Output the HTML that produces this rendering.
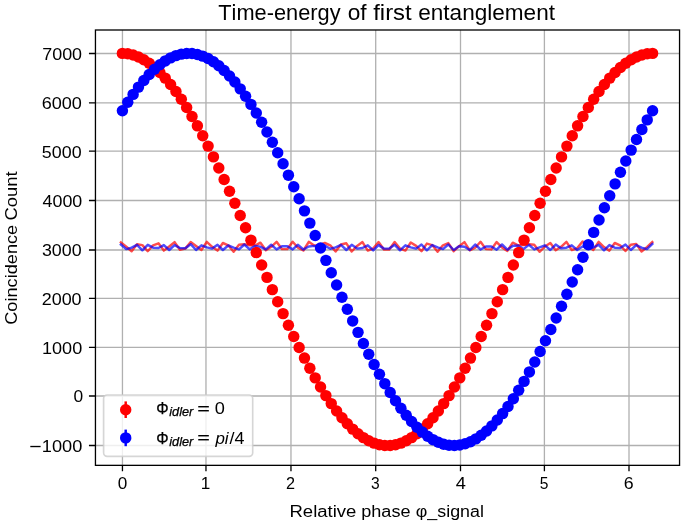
<!DOCTYPE html>
<html><head><meta charset="utf-8"><title>Time-energy of first entanglement</title>
<style>html,body{margin:0;padding:0;background:#fff;width:685px;height:526px;overflow:hidden}
text{font-family:"Liberation Sans", sans-serif;font-kerning:none}</style></head>
<body><svg width="685" height="526" viewBox="0 0 685 526" style="display:block;will-change:transform;font-family:'Liberation Sans', sans-serif;font-kerning:none"><rect x="0" y="0" width="685" height="526" fill="#fff"/><path d="M122.45 30.00V465.35M205.97 30.00V465.35M290.97 30.00V465.35M375.70 30.00V465.35M460.50 30.00V465.35M544.40 30.00V465.35M629.00 30.00V465.35M95.45 445.50H679.55M95.45 396.00H679.55M95.45 347.44H679.55M95.45 298.33H679.55M95.45 250.00H679.55M95.45 200.47H679.55M95.45 151.18H679.55M95.45 102.79H679.55M95.45 53.47H679.55" stroke="#b0b0b0" stroke-width="1.31" fill="none"/><polyline points="120.90,242.40 126.27,246.80 131.64,251.20 137.00,244.20 142.37,245.10 147.74,251.20 153.11,245.30 158.47,243.30 163.84,250.60 169.21,246.50 174.58,242.10 179.94,249.70 185.31,248.60 190.68,242.10 196.05,246.00 201.42,250.00 206.78,241.80 212.15,246.80 217.52,250.60 222.89,243.00 228.25,245.30 233.62,251.80 238.99,244.80 244.36,244.20 249.72,245.30 255.09,245.60 260.46,242.70 265.83,250.30 271.20,246.80 276.56,241.80 281.93,249.10 287.30,249.10 292.67,241.80 298.03,247.70 303.40,250.50 308.77,241.80 314.14,245.60 319.50,244.80 324.87,243.00 330.24,245.30 335.61,251.50 340.98,244.50 346.34,243.30 351.71,251.50 357.08,245.90 362.45,242.10 367.81,250.60 373.18,248.50 378.55,242.10 383.92,249.40 389.28,249.40 394.65,242.10 400.02,248.60 405.39,250.60 410.76,242.50 416.12,245.90 421.49,251.20 426.86,243.60 432.23,245.10 437.59,251.80 442.96,245.30 448.33,243.10 453.70,251.20 459.07,246.20 464.43,242.10 469.80,250.30 475.17,247.70 480.54,241.80 485.90,249.10 491.27,249.40 496.64,242.10 502.01,247.40 507.37,250.90 512.74,242.70 518.11,245.30 523.48,245.00 528.85,244.20 534.21,244.80 539.58,251.80 544.95,246.50 550.32,243.00 555.68,250.20 561.05,246.80 566.42,241.80 571.79,250.00 577.15,248.30 582.52,241.50 587.89,246.00 593.26,250.00 598.63,241.80 603.99,247.10 609.36,250.60 614.73,243.00 620.10,245.30 625.46,251.00 630.83,244.80 636.20,243.90 641.57,251.50 646.93,247.10 652.30,242.10" fill="none" stroke="#ff0000" stroke-opacity="0.7" stroke-width="2.45" stroke-linejoin="round" stroke-linecap="square"/><polyline points="120.90,244.50 126.27,249.10 131.64,247.70 137.00,244.80 142.37,250.30 147.74,244.80 153.11,247.70 158.47,248.00 163.84,245.10 169.21,250.00 174.58,245.10 179.94,248.00 185.31,248.30 190.68,244.20 196.05,250.00 201.42,245.30 206.78,247.40 212.15,248.60 217.52,244.80 222.89,250.00 228.25,245.50 233.62,247.70 238.99,249.40 244.36,244.50 249.72,249.40 255.09,245.90 260.46,246.80 265.83,249.40 271.20,244.80 276.56,249.40 281.93,246.20 287.30,246.20 292.67,249.40 298.03,244.80 303.40,249.50 308.77,246.50 314.14,245.90 319.50,247.00 324.87,245.60 330.24,248.80 335.61,247.40 340.98,244.80 346.34,250.00 351.71,244.80 357.08,248.60 362.45,248.00 367.81,245.30 373.18,250.40 378.55,245.10 383.92,248.60 389.28,248.60 394.65,244.80 400.02,250.30 405.39,245.30 410.76,247.40 416.12,248.60 421.49,244.50 426.86,250.30 432.23,245.10 437.59,247.40 442.96,249.10 448.33,244.50 453.70,250.00 459.07,246.20 464.43,246.80 469.80,250.00 475.17,244.50 480.54,249.50 485.90,246.50 491.27,246.50 496.64,249.70 502.01,244.50 507.37,249.70 512.74,245.90 518.11,245.50 523.48,249.10 528.85,244.80 534.21,249.40 539.58,247.40 544.95,245.30 550.32,250.00 555.68,244.60 561.05,248.30 566.42,247.70 571.79,245.30 577.15,250.00 582.52,246.50 587.89,247.00 593.26,247.50 598.63,244.80 603.99,250.30 609.36,245.10 614.73,247.70 620.10,248.00 625.46,244.60 630.83,250.00 636.20,245.10 641.57,247.70 646.93,249.10 652.30,243.90" fill="none" stroke="#0000ff" stroke-opacity="0.7" stroke-width="2.45" stroke-linejoin="round" stroke-linecap="square"/><g fill="#ff0000"><circle cx="122.40" cy="53.40" r="5.72"/><circle cx="127.76" cy="53.79" r="5.72"/><circle cx="133.11" cy="54.98" r="5.72"/><circle cx="138.47" cy="56.94" r="5.72"/><circle cx="143.82" cy="59.68" r="5.72"/><circle cx="149.18" cy="63.19" r="5.72"/><circle cx="154.53" cy="67.45" r="5.72"/><circle cx="159.89" cy="72.43" r="5.72"/><circle cx="165.24" cy="78.14" r="5.72"/><circle cx="170.60" cy="84.53" r="5.72"/><circle cx="175.95" cy="91.58" r="5.72"/><circle cx="181.31" cy="99.27" r="5.72"/><circle cx="186.66" cy="107.57" r="5.72"/><circle cx="192.02" cy="116.44" r="5.72"/><circle cx="197.37" cy="125.84" r="5.72"/><circle cx="202.73" cy="135.74" r="5.72"/><circle cx="208.08" cy="146.10" r="5.72"/><circle cx="213.44" cy="156.88" r="5.72"/><circle cx="218.80" cy="168.03" r="5.72"/><circle cx="224.15" cy="179.50" r="5.72"/><circle cx="229.51" cy="191.26" r="5.72"/><circle cx="234.86" cy="203.25" r="5.72"/><circle cx="240.22" cy="215.43" r="5.72"/><circle cx="245.57" cy="227.75" r="5.72"/><circle cx="250.93" cy="240.15" r="5.72"/><circle cx="256.28" cy="252.59" r="5.72"/><circle cx="261.64" cy="265.02" r="5.72"/><circle cx="266.99" cy="277.39" r="5.72"/><circle cx="272.35" cy="289.64" r="5.72"/><circle cx="277.70" cy="301.73" r="5.72"/><circle cx="283.06" cy="313.61" r="5.72"/><circle cx="288.41" cy="325.23" r="5.72"/><circle cx="293.77" cy="336.55" r="5.72"/><circle cx="299.13" cy="347.52" r="5.72"/><circle cx="304.48" cy="358.09" r="5.72"/><circle cx="309.84" cy="368.23" r="5.72"/><circle cx="315.19" cy="377.89" r="5.72"/><circle cx="320.55" cy="387.03" r="5.72"/><circle cx="325.90" cy="395.61" r="5.72"/><circle cx="331.26" cy="403.61" r="5.72"/><circle cx="336.61" cy="410.99" r="5.72"/><circle cx="341.97" cy="417.71" r="5.72"/><circle cx="347.32" cy="423.76" r="5.72"/><circle cx="352.68" cy="429.11" r="5.72"/><circle cx="358.03" cy="433.73" r="5.72"/><circle cx="363.39" cy="437.62" r="5.72"/><circle cx="368.74" cy="440.74" r="5.72"/><circle cx="374.10" cy="443.10" r="5.72"/><circle cx="379.45" cy="444.67" r="5.72"/><circle cx="384.81" cy="445.46" r="5.72"/><circle cx="390.17" cy="445.46" r="5.72"/><circle cx="395.52" cy="444.67" r="5.72"/><circle cx="400.88" cy="443.10" r="5.72"/><circle cx="406.23" cy="440.74" r="5.72"/><circle cx="411.59" cy="437.62" r="5.72"/><circle cx="416.94" cy="433.73" r="5.72"/><circle cx="422.30" cy="429.11" r="5.72"/><circle cx="427.65" cy="423.76" r="5.72"/><circle cx="433.01" cy="417.71" r="5.72"/><circle cx="438.36" cy="410.99" r="5.72"/><circle cx="443.72" cy="403.61" r="5.72"/><circle cx="449.07" cy="395.61" r="5.72"/><circle cx="454.43" cy="387.03" r="5.72"/><circle cx="459.78" cy="377.89" r="5.72"/><circle cx="465.14" cy="368.23" r="5.72"/><circle cx="470.49" cy="358.09" r="5.72"/><circle cx="475.85" cy="347.52" r="5.72"/><circle cx="481.21" cy="336.55" r="5.72"/><circle cx="486.56" cy="325.23" r="5.72"/><circle cx="491.92" cy="313.61" r="5.72"/><circle cx="497.27" cy="301.73" r="5.72"/><circle cx="502.63" cy="289.64" r="5.72"/><circle cx="507.98" cy="277.39" r="5.72"/><circle cx="513.34" cy="265.02" r="5.72"/><circle cx="518.69" cy="252.59" r="5.72"/><circle cx="524.05" cy="240.15" r="5.72"/><circle cx="529.40" cy="227.75" r="5.72"/><circle cx="534.76" cy="215.43" r="5.72"/><circle cx="540.11" cy="203.25" r="5.72"/><circle cx="545.47" cy="191.26" r="5.72"/><circle cx="550.82" cy="179.50" r="5.72"/><circle cx="556.18" cy="168.03" r="5.72"/><circle cx="561.53" cy="156.88" r="5.72"/><circle cx="566.89" cy="146.10" r="5.72"/><circle cx="572.25" cy="135.74" r="5.72"/><circle cx="577.60" cy="125.84" r="5.72"/><circle cx="582.96" cy="116.44" r="5.72"/><circle cx="588.31" cy="107.57" r="5.72"/><circle cx="593.67" cy="99.27" r="5.72"/><circle cx="599.02" cy="91.58" r="5.72"/><circle cx="604.38" cy="84.53" r="5.72"/><circle cx="609.73" cy="78.14" r="5.72"/><circle cx="615.09" cy="72.43" r="5.72"/><circle cx="620.44" cy="67.45" r="5.72"/><circle cx="625.80" cy="63.19" r="5.72"/><circle cx="631.15" cy="59.68" r="5.72"/><circle cx="636.51" cy="56.94" r="5.72"/><circle cx="641.86" cy="54.98" r="5.72"/><circle cx="647.22" cy="53.79" r="5.72"/><circle cx="652.58" cy="53.40" r="5.72"/></g><g fill="#0000ff"><circle cx="122.40" cy="110.83" r="5.72"/><circle cx="127.76" cy="102.32" r="5.72"/><circle cx="133.11" cy="94.39" r="5.72"/><circle cx="138.47" cy="87.10" r="5.72"/><circle cx="143.82" cy="80.45" r="5.72"/><circle cx="149.18" cy="74.49" r="5.72"/><circle cx="154.53" cy="69.23" r="5.72"/><circle cx="159.89" cy="64.70" r="5.72"/><circle cx="165.24" cy="60.91" r="5.72"/><circle cx="170.60" cy="57.88" r="5.72"/><circle cx="175.95" cy="55.62" r="5.72"/><circle cx="181.31" cy="54.15" r="5.72"/><circle cx="186.66" cy="53.46" r="5.72"/><circle cx="192.02" cy="53.55" r="5.72"/><circle cx="197.37" cy="54.44" r="5.72"/><circle cx="202.73" cy="56.11" r="5.72"/><circle cx="208.08" cy="58.57" r="5.72"/><circle cx="213.44" cy="61.79" r="5.72"/><circle cx="218.80" cy="65.76" r="5.72"/><circle cx="224.15" cy="70.48" r="5.72"/><circle cx="229.51" cy="75.92" r="5.72"/><circle cx="234.86" cy="82.05" r="5.72"/><circle cx="240.22" cy="88.86" r="5.72"/><circle cx="245.57" cy="96.32" r="5.72"/><circle cx="250.93" cy="104.39" r="5.72"/><circle cx="256.28" cy="113.05" r="5.72"/><circle cx="261.64" cy="122.25" r="5.72"/><circle cx="266.99" cy="131.97" r="5.72"/><circle cx="272.35" cy="142.17" r="5.72"/><circle cx="277.70" cy="152.79" r="5.72"/><circle cx="283.06" cy="163.80" r="5.72"/><circle cx="288.41" cy="175.16" r="5.72"/><circle cx="293.77" cy="186.82" r="5.72"/><circle cx="299.13" cy="198.73" r="5.72"/><circle cx="304.48" cy="210.85" r="5.72"/><circle cx="309.84" cy="223.12" r="5.72"/><circle cx="315.19" cy="235.49" r="5.72"/><circle cx="320.55" cy="247.92" r="5.72"/><circle cx="325.90" cy="260.36" r="5.72"/><circle cx="331.26" cy="272.76" r="5.72"/><circle cx="336.61" cy="285.06" r="5.72"/><circle cx="341.97" cy="297.22" r="5.72"/><circle cx="347.32" cy="309.18" r="5.72"/><circle cx="352.68" cy="320.91" r="5.72"/><circle cx="358.03" cy="332.35" r="5.72"/><circle cx="363.39" cy="343.45" r="5.72"/><circle cx="368.74" cy="354.18" r="5.72"/><circle cx="374.10" cy="364.48" r="5.72"/><circle cx="379.45" cy="374.32" r="5.72"/><circle cx="384.81" cy="383.66" r="5.72"/><circle cx="390.17" cy="392.46" r="5.72"/><circle cx="395.52" cy="400.68" r="5.72"/><circle cx="400.88" cy="408.29" r="5.72"/><circle cx="406.23" cy="415.27" r="5.72"/><circle cx="411.59" cy="421.58" r="5.72"/><circle cx="416.94" cy="427.19" r="5.72"/><circle cx="422.30" cy="432.09" r="5.72"/><circle cx="427.65" cy="436.25" r="5.72"/><circle cx="433.01" cy="439.66" r="5.72"/><circle cx="438.36" cy="442.30" r="5.72"/><circle cx="443.72" cy="444.17" r="5.72"/><circle cx="449.07" cy="445.26" r="5.72"/><circle cx="454.43" cy="445.55" r="5.72"/><circle cx="459.78" cy="445.06" r="5.72"/><circle cx="465.14" cy="443.78" r="5.72"/><circle cx="470.49" cy="441.72" r="5.72"/><circle cx="475.85" cy="438.88" r="5.72"/><circle cx="481.21" cy="435.28" r="5.72"/><circle cx="486.56" cy="430.93" r="5.72"/><circle cx="491.92" cy="425.85" r="5.72"/><circle cx="497.27" cy="420.06" r="5.72"/><circle cx="502.63" cy="413.59" r="5.72"/><circle cx="507.98" cy="406.45" r="5.72"/><circle cx="513.34" cy="398.68" r="5.72"/><circle cx="518.69" cy="390.31" r="5.72"/><circle cx="524.05" cy="381.38" r="5.72"/><circle cx="529.40" cy="371.91" r="5.72"/><circle cx="534.76" cy="361.95" r="5.72"/><circle cx="540.11" cy="351.53" r="5.72"/><circle cx="545.47" cy="340.71" r="5.72"/><circle cx="550.82" cy="329.52" r="5.72"/><circle cx="556.18" cy="318.00" r="5.72"/><circle cx="561.53" cy="306.21" r="5.72"/><circle cx="566.89" cy="294.19" r="5.72"/><circle cx="572.25" cy="282.00" r="5.72"/><circle cx="577.60" cy="269.67" r="5.72"/><circle cx="582.96" cy="257.26" r="5.72"/><circle cx="588.31" cy="244.81" r="5.72"/><circle cx="593.67" cy="232.39" r="5.72"/><circle cx="599.02" cy="220.04" r="5.72"/><circle cx="604.38" cy="207.80" r="5.72"/><circle cx="609.73" cy="195.73" r="5.72"/><circle cx="615.09" cy="183.88" r="5.72"/><circle cx="620.44" cy="172.29" r="5.72"/><circle cx="625.80" cy="161.02" r="5.72"/><circle cx="631.15" cy="150.10" r="5.72"/><circle cx="636.51" cy="139.58" r="5.72"/><circle cx="641.86" cy="129.50" r="5.72"/><circle cx="647.22" cy="119.90" r="5.72"/><circle cx="652.58" cy="110.83" r="5.72"/></g><rect x="95.45" y="30.00" width="584.10" height="435.35" fill="none" stroke="#000" stroke-width="1.31" stroke-linejoin="miter"/><path d="M122.45 465.35v5.9M205.97 465.35v5.9M290.97 465.35v5.9M375.70 465.35v5.9M460.50 465.35v5.9M544.40 465.35v5.9M629.00 465.35v5.9M95.45 445.50h-6.5M95.45 396.00h-6.5M95.45 347.44h-6.5M95.45 298.33h-6.5M95.45 250.00h-6.5M95.45 200.47h-6.5M95.45 151.18h-6.5M95.45 102.79h-6.5M95.45 53.47h-6.5" stroke="#000" stroke-width="1.31" fill="none"/><text x="117.68" y="489.00" font-size="16.53" textLength="9.54" lengthAdjust="spacingAndGlyphs" fill="#000" style="" >0</text><text x="200.66" y="489.00" font-size="16.53" textLength="9.55" lengthAdjust="spacingAndGlyphs" fill="#000" style="" >1</text><text x="286.05" y="489.00" font-size="16.53" textLength="9.03" lengthAdjust="spacingAndGlyphs" fill="#000" style="" >2</text><text x="371.01" y="489.00" font-size="16.53" textLength="8.68" lengthAdjust="spacingAndGlyphs" fill="#000" style="" >3</text><text x="455.68" y="489.00" font-size="16.53" textLength="10.15" lengthAdjust="spacingAndGlyphs" fill="#000" style="" >4</text><text x="539.68" y="489.00" font-size="16.53" textLength="8.68" lengthAdjust="spacingAndGlyphs" fill="#000" style="" >5</text><text x="623.80" y="489.00" font-size="16.53" textLength="9.88" lengthAdjust="spacingAndGlyphs" fill="#000" style="" >6</text><text x="41.81" y="451.90" font-size="16.53" textLength="40.50" lengthAdjust="spacingAndGlyphs" fill="#000" style="" >1000</text><text x="73.62" y="402.40" font-size="16.53" textLength="9.66" lengthAdjust="spacingAndGlyphs" fill="#000" style="" >0</text><text x="42.02" y="353.84" font-size="16.53" textLength="40.18" lengthAdjust="spacingAndGlyphs" fill="#000" style="" >1000</text><text x="41.70" y="304.73" font-size="16.53" textLength="39.90" lengthAdjust="spacingAndGlyphs" fill="#000" style="" >2000</text><text x="41.92" y="256.40" font-size="16.53" textLength="39.68" lengthAdjust="spacingAndGlyphs" fill="#000" style="" >3000</text><text x="42.59" y="206.87" font-size="16.53" textLength="39.71" lengthAdjust="spacingAndGlyphs" fill="#000" style="" >4000</text><text x="41.89" y="157.58" font-size="16.53" textLength="39.71" lengthAdjust="spacingAndGlyphs" fill="#000" style="" >5000</text><text x="41.68" y="109.19" font-size="16.53" textLength="40.22" lengthAdjust="spacingAndGlyphs" fill="#000" style="" >6000</text><text x="42.28" y="59.87" font-size="16.53" textLength="39.82" lengthAdjust="spacingAndGlyphs" fill="#000" style="" >7000</text><rect x="30.3" y="445.85" width="10.3" height="1.35" fill="#000"/><text x="218.31" y="20.00" font-size="21.80" textLength="122.23" lengthAdjust="spacingAndGlyphs" fill="#000" style="" >Time-energy</text><text x="347.65" y="20.00" font-size="21.80" textLength="18.92" lengthAdjust="spacingAndGlyphs" fill="#000" style="" >of</text><text x="373.26" y="20.00" font-size="21.80" textLength="38.41" lengthAdjust="spacingAndGlyphs" fill="#000" style="" >first</text><text x="418.24" y="20.00" font-size="21.80" textLength="136.72" lengthAdjust="spacingAndGlyphs" fill="#000" style="" >entanglement</text><text x="289.48" y="516.80" font-size="17.30" textLength="66.94" lengthAdjust="spacingAndGlyphs" fill="#000" style="" >Relative</text><text x="361.23" y="516.80" font-size="17.30" textLength="49.27" lengthAdjust="spacingAndGlyphs" fill="#000" style="" >phase</text><text x="415.76" y="516.80" font-size="17.30" textLength="68.13" lengthAdjust="spacingAndGlyphs" fill="#000" style="" >φ_signal</text><g transform="translate(16.9 323.9) rotate(-90)"><text x="-0.92" y="0.00" font-size="17.30" textLength="100.03" lengthAdjust="spacingAndGlyphs" fill="#000" style="" >Coincidence</text><text x="103.36" y="0.00" font-size="17.30" textLength="49.17" lengthAdjust="spacingAndGlyphs" fill="#000" style="" >Count</text></g><rect x="103.6" y="395.0" width="149.10" height="61.40" rx="3.6" ry="3.6" fill="#fff" fill-opacity="0.8" stroke="#cccccc" stroke-opacity="0.8" stroke-width="1.64"/><path d="M125.7 401.40V418.00" stroke="#ff0000" stroke-width="2.45"/><circle cx="125.7" cy="409.7" r="5.72" fill="#ff0000"/><path d="M125.7 429.60V446.20" stroke="#0000ff" stroke-width="2.45"/><circle cx="125.7" cy="437.9" r="5.72" fill="#0000ff"/><text x="156.21" y="413.70" font-size="16.76" textLength="12.36" lengthAdjust="spacingAndGlyphs" fill="#000" style="" stroke="#000" stroke-width="0.25">Φ</text><text x="169.30" y="415.70" font-size="12.21" textLength="23.98" lengthAdjust="spacingAndGlyphs" fill="#000" style="font-style:italic;" stroke="#000" stroke-width="0.25">idler</text><text x="197.34" y="414.00" font-size="16.40" textLength="12.62" lengthAdjust="spacingAndGlyphs" fill="#000" style="" stroke="#000" stroke-width="0.15">=</text><text x="214.69" y="413.70" font-size="16.24" textLength="10.12" lengthAdjust="spacingAndGlyphs" fill="#000" style="" >0</text><text x="156.21" y="443.60" font-size="16.76" textLength="12.36" lengthAdjust="spacingAndGlyphs" fill="#000" style="" stroke="#000" stroke-width="0.25">Φ</text><text x="169.30" y="445.90" font-size="12.21" textLength="23.98" lengthAdjust="spacingAndGlyphs" fill="#000" style="font-style:italic;" stroke="#000" stroke-width="0.25">idler</text><text x="197.34" y="443.30" font-size="16.40" textLength="12.62" lengthAdjust="spacingAndGlyphs" fill="#000" style="" stroke="#000" stroke-width="0.15">=</text><text x="215.42" y="443.60" font-size="16.14" textLength="13.20" lengthAdjust="spacingAndGlyphs" fill="#000" style="font-style:italic;" >pi</text><text x="229.60" y="443.60" font-size="16.14" textLength="14.92" lengthAdjust="spacingAndGlyphs" fill="#000" style="" >/4</text></svg></body></html>
